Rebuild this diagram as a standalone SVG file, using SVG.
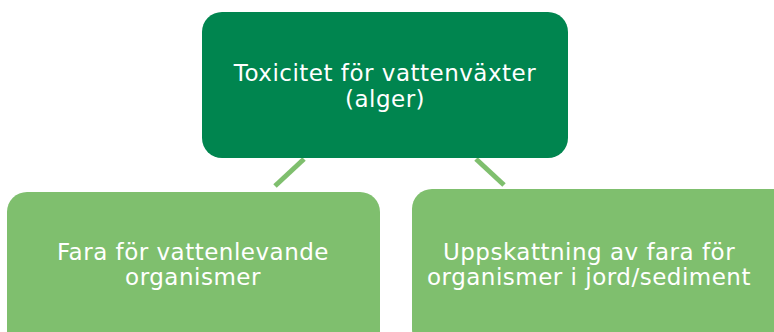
<svg xmlns="http://www.w3.org/2000/svg" width="774" height="332" viewBox="0 0 774 332">
  <style>
    .lbl { font-family: "DejaVu Sans", Verdana, sans-serif; font-size: 23px; letter-spacing: 0.5px; fill: #ffffff; text-anchor: middle; }
    .link { stroke: #7fbf6e; stroke-width: 5; fill: none; }
    .top { fill: #00854f; }
    .leaf { fill: #7fbf6e; }
  </style>
  <rect width="774" height="332" fill="#ffffff"/>
  <g id="connectors">
    <line class="link" x1="304" y1="159" x2="275" y2="186"/>
    <line class="link" x1="476" y1="159" x2="504" y2="185"/>
  </g>
  <g id="node-toxicitet">
    <rect class="top" x="202" y="12" width="366" height="146" rx="20"/>
    <text class="lbl" x="385" y="81">Toxicitet för vattenväxter</text>
    <text class="lbl" x="385" y="107">(alger)</text>
  </g>
  <g id="node-fara">
    <rect class="leaf" x="7" y="192" width="373" height="160" rx="20"/>
    <text class="lbl" x="193" y="260">Fara för vattenlevande</text>
    <text class="lbl" x="193" y="285">organismer</text>
  </g>
  <g id="node-uppskattning">
    <rect class="leaf" x="412" y="189" width="380" height="160" rx="20"/>
    <text class="lbl" x="589" y="260">Uppskattning av fara för</text>
    <text class="lbl" x="589" y="285">organismer i jord/sediment</text>
  </g>
</svg>
